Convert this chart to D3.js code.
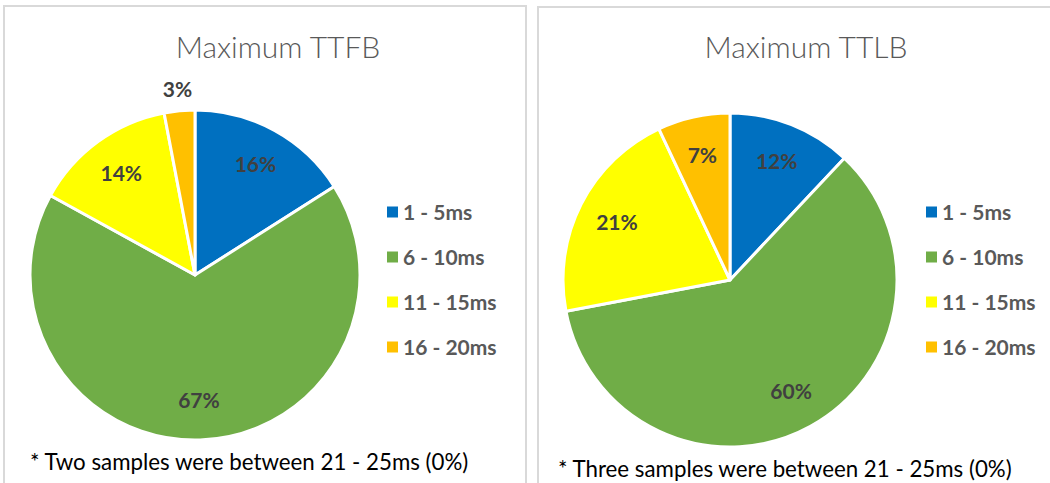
<!DOCTYPE html>
<html>
<head>
<meta charset="utf-8">
<script src="https://cdn.jsdelivr.net/npm/d3@7"></script>
<style>
  body { margin: 0; background: #fff; }
  svg { display: block; font-family: Lato, "Open Sans", sans-serif; }
</style>
</head>
<body>
<svg id="chart" width="1050" height="483"></svg>
<script>
const categories = ["1 - 5ms", "6 - 10ms", "11 - 15ms", "16 - 20ms"];
const ttfbValues = [16, 67, 14, 3];
const ttlbValues = [12, 60, 21, 7];
const titles = ["Maximum TTFB", "Maximum TTLB"];
const notes = ["* Two samples were between 21 - 25ms (0%)", "* Three samples were between 21 - 25ms (0%)"];

const colors = d3.scaleOrdinal()
  .domain(categories)
  .range(["#0070C0", "#70AD47", "#FFFF00", "#FFC000"]);

const svg = d3.select("#chart");

// panel layout
const panels = [
  { x: 4, y: 6, w: 522, h: 490, cx: 195, cy: 275, r: 165, legX: 387, titleX: 278, noteX: 30, noteY: 470, values: ttfbValues },
  { x: 538, y: 7, w: 530, h: 490, cx: 730, cy: 280, r: 167, legX: 926, titleX: 806, noteX: 558, noteY: 477, values: ttlbValues }
];

const pie = d3.pie().sort(null).value(d => d);

panels.forEach((p, idx) => {
  const g = svg.append("g");

  g.append("rect")
    .attr("x", p.x).attr("y", p.y)
    .attr("width", p.w).attr("height", p.h)
    .attr("fill", "#fff")
    .attr("stroke", "#d9d9d9")
    .attr("stroke-width", 2);

  g.append("text")
    .attr("x", p.titleX).attr("y", 58)
    .attr("text-anchor", "middle")
    .attr("font-size", 30)
    .attr("font-weight", 300)
    .attr("fill", "#595959")
    .text(titles[idx]);

  const arc = d3.arc().innerRadius(0).outerRadius(p.r);
  const arcs = pie(p.values);

  const pg = g.append("g").attr("transform", `translate(${p.cx},${p.cy})`);

  pg.selectAll("path")
    .data(arcs)
    .join("path")
    .attr("d", arc)
    .attr("fill", (d, i) => colors(categories[i]))
    .attr("stroke", "#fff")
    .attr("stroke-width", 3)
    .attr("stroke-linejoin", "round");

  //small slices get their label outside
  pg.selectAll("text")
    .data(arcs)
    .join("text")
    .attr("transform", d => {
      const small = (d.endAngle - d.startAngle) < 0.3;
      const rr = small ? p.r * 1.13 : p.r * 0.76;
      const a = (d.startAngle + d.endAngle) / 2;
      return `translate(${Math.sin(a) * rr},${-Math.cos(a) * rr})`;
    })
    .attr("text-anchor", "middle")
    .attr("dy", "0.35em")
    .attr("font-size", 21)
    .attr("font-weight", 700)
    .attr("fill", "#404040")
    .text(d => d.data + "%");

  const legend = g.append("g").attr("transform", `translate(${p.legX},0)`);
  const ly = d3.scalePoint().domain(categories).range([212, 347]);

  legend.selectAll("rect")
    .data(categories)
    .join("rect")
    .attr("x", 0)
    .attr("y", d => ly(d) - 5.5)
    .attr("width", 11).attr("height", 11)
    .attr("fill", d => colors(d));

  legend.selectAll("text")
    .data(categories)
    .join("text")
    .attr("x", 16)
    .attr("y", d => ly(d))
    .attr("dy", "0.36em")
    .attr("font-size", 21)
    .attr("font-weight", 700)
    .attr("fill", "#595959")
    .text(d => d);

  g.append("text")
    .attr("x", p.noteX).attr("y", p.noteY)
    .attr("font-size", 22.3)
    .attr("fill", "#000")
    .text(notes[idx]);
});
</script>
</body>
</html>
